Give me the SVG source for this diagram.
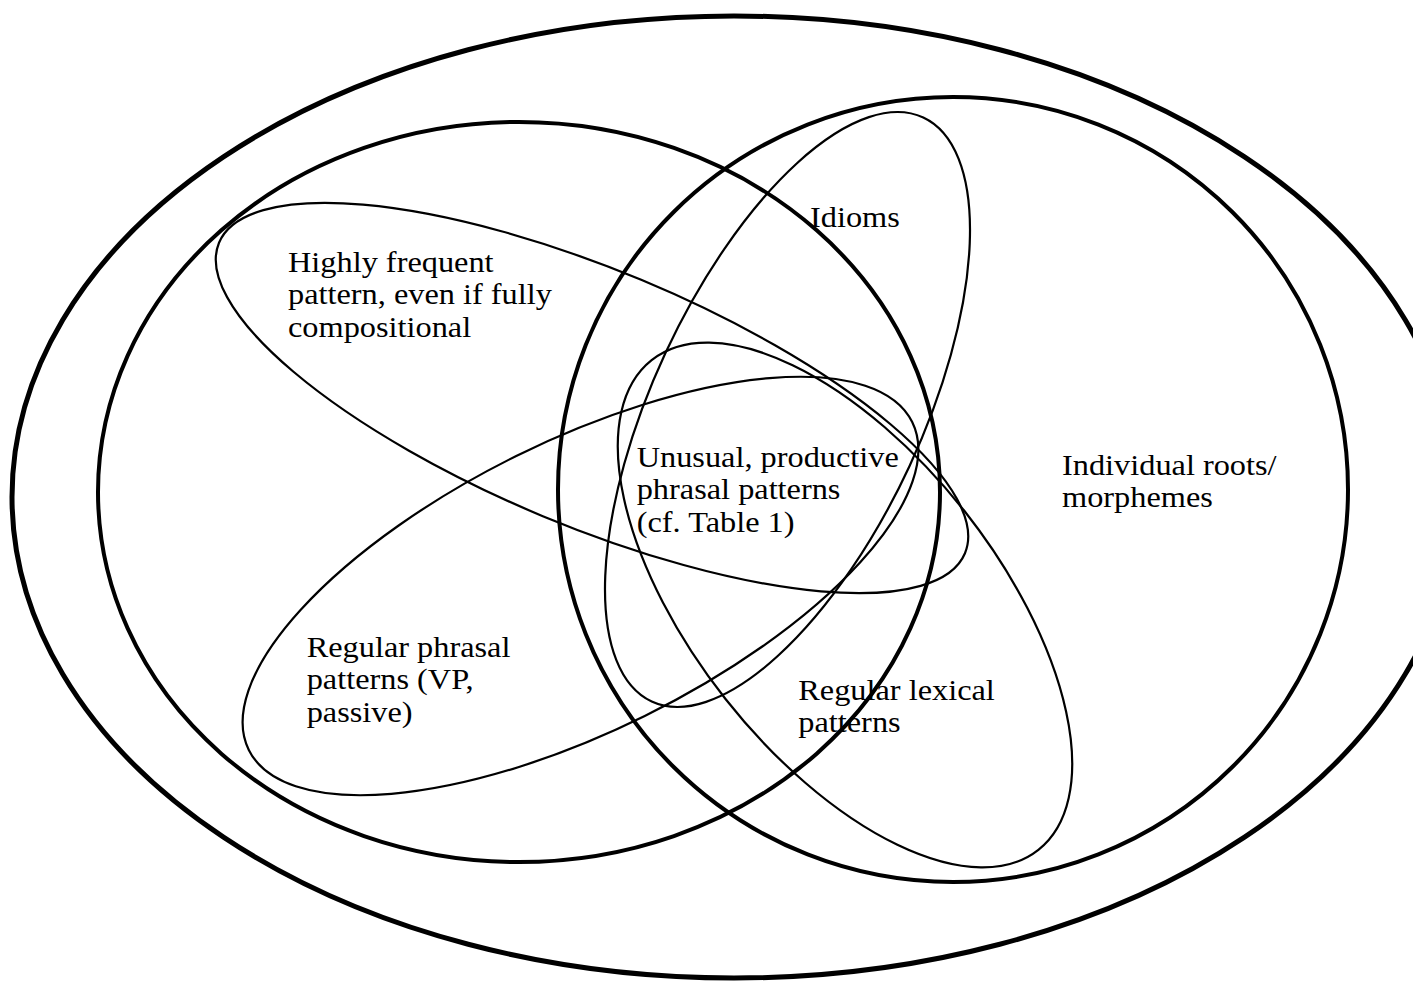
<svg xmlns="http://www.w3.org/2000/svg" width="1413" height="982" viewBox="0 0 1413 982">
<style>
.bg{fill:#fff}
.e{fill:none;stroke:#000}
.thick{stroke-width:5}
.mid{stroke-width:4}
.thin{stroke-width:2.2}
.t{font-family:"Liberation Serif","Times New Roman",serif;font-size:29px;fill:#000}
</style>
<rect class="bg" x="0" y="0" width="1413" height="982"/>
<g id="outer">
<ellipse class="e thick" cx="734" cy="497" rx="722" ry="481"/>
</g>
<g id="left-set">
<ellipse class="e mid" cx="519" cy="492" rx="421" ry="370"/>
</g>
<g id="individual-roots">
<ellipse class="e mid" cx="953" cy="489.5" rx="395" ry="392.5"/>
<text class="t" transform="translate(1062 475) scale(1.115 1)"><tspan x="0" y="0">Individual roots/</tspan><tspan x="0" y="32.5">morphemes</tspan></text>
</g>
<g id="idioms">
<ellipse class="e thin" cx="0" cy="0" rx="134.5" ry="322" transform="translate(787.5 409.5) rotate(24.94)"/>
<text class="t" transform="translate(810 227) scale(1.115 1)">Idioms</text>
</g>
<g id="highly-frequent">
<ellipse class="e thin" cx="0" cy="0" rx="404" ry="128" transform="translate(592 398) rotate(22.6)"/>
<text class="t" transform="translate(288 272) scale(1.115 1)"><tspan x="0" y="0">Highly frequent</tspan><tspan x="0" y="32.5">pattern, even if fully</tspan><tspan x="0" y="65">compositional</tspan></text>
</g>
<g id="regular-phrasal">
<ellipse class="e thin" cx="0" cy="0" rx="370" ry="145" transform="translate(580.5 586) rotate(-26.3)"/>
<text class="t" transform="translate(306.7 657) scale(1.115 1)"><tspan x="0" y="0">Regular phrasal</tspan><tspan x="0" y="32.5">patterns (VP,</tspan><tspan x="0" y="65">passive)</tspan></text>
</g>
<g id="regular-lexical">
<ellipse class="e thin" cx="0" cy="0" rx="312" ry="152" transform="translate(845 605) rotate(51.7)"/>
<text class="t" transform="translate(798.3 700) scale(1.115 1)"><tspan x="0" y="0">Regular lexical</tspan><tspan x="0" y="32.5">patterns</tspan></text>
</g>
<g id="unusual-productive">
<text class="t" transform="translate(636.7 467) scale(1.115 1)"><tspan x="0" y="0">Unusual, productive</tspan><tspan x="0" y="32.5">phrasal patterns</tspan><tspan x="0" y="65">(cf. Table 1)</tspan></text>
</g>
<g id="connectors"/>
</svg>
